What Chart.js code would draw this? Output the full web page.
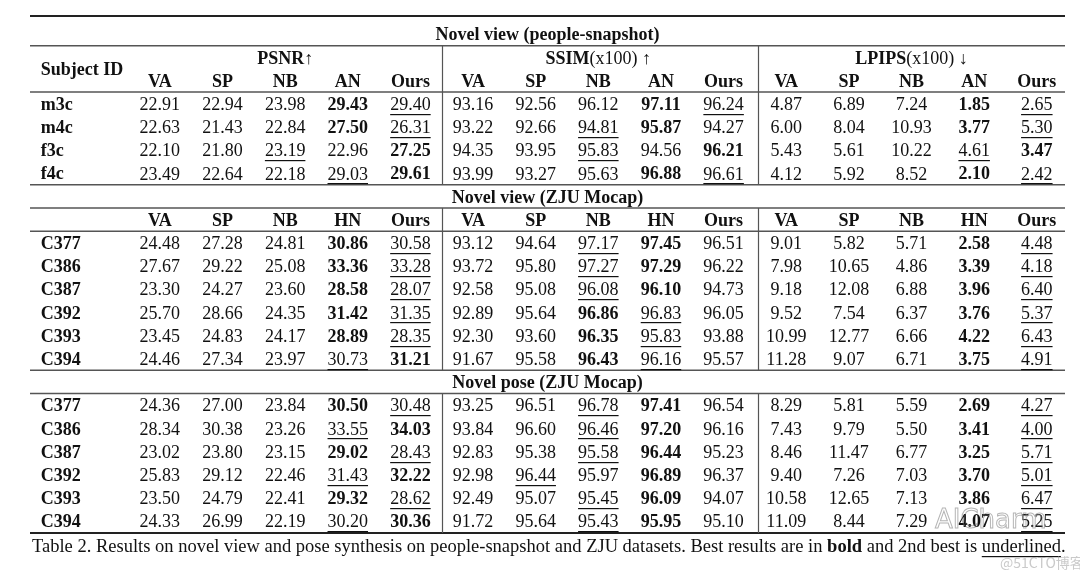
<!DOCTYPE html>
<html>
<head>
<meta charset="utf-8">
<script src="https://cdn.jsdelivr.net/npm/chart.js"></script>
<style>
  html, body { margin: 0; padding: 0; background: #fff; }
</style>
</head>
<body>
<canvas id="tableChart" width="1080" height="575"></canvas>
<script>
const sectionTitles = ['Novel view (people-snapshot)', 'Novel view (ZJU Mocap)', 'Novel pose (ZJU Mocap)'];
const metricNames = [['PSNR', '↑'], ['SSIM', '(x100) ↑'], ['LPIPS', '(x100) ↓']];
const methodsSnapshot = ['VA', 'SP', 'NB', 'AN', 'Ours'];
const methodsZJU = ['VA', 'SP', 'NB', 'HN', 'Ours'];
const subjectsSnapshot = ['m3c', 'm4c', 'f3c', 'f4c'];
const subjectsZJU = ['C377', 'C386', 'C387', 'C392', 'C393', 'C394'];

const psnrSnapshot = [
  [22.91, 22.94, 23.98, 29.43, 29.40],
  [22.63, 21.43, 22.84, 27.50, 26.31],
  [22.10, 21.80, 23.19, 22.96, 27.25],
  [23.49, 22.64, 22.18, 29.03, 29.61]
];
const ssimSnapshot = [
  [93.16, 92.56, 96.12, 97.11, 96.24],
  [93.22, 92.66, 94.81, 95.87, 94.27],
  [94.35, 93.95, 95.83, 94.56, 96.21],
  [93.99, 93.27, 95.63, 96.88, 96.61]
];
const lpipsSnapshot = [
  [4.87, 6.89, 7.24, 1.85, 2.65],
  [6.00, 8.04, 10.93, 3.77, 5.30],
  [5.43, 5.61, 10.22, 4.61, 3.47],
  [4.12, 5.92, 8.52, 2.10, 2.42]
];
// best / 2nd best column per row, for [psnr, ssim, lpips]
const bestSnapshot = [[3, 3, 3], [3, 3, 3], [4, 4, 4], [4, 3, 3]];
const secondSnapshot = [[4, 4, 4], [4, 2, 4], [2, 2, 3], [3, 4, 4]];

const psnrView = [
  [24.48, 27.28, 24.81, 30.86, 30.58],
  [27.67, 29.22, 25.08, 33.36, 33.28],
  [23.30, 24.27, 23.60, 28.58, 28.07],
  [25.70, 28.66, 24.35, 31.42, 31.35],
  [23.45, 24.83, 24.17, 28.89, 28.35],
  [24.46, 27.34, 23.97, 30.73, 31.21]
];
const ssimView = [
  [93.12, 94.64, 97.17, 97.45, 96.51],
  [93.72, 95.80, 97.27, 97.29, 96.22],
  [92.58, 95.08, 96.08, 96.10, 94.73],
  [92.89, 95.64, 96.86, 96.83, 96.05],
  [92.30, 93.60, 96.35, 95.83, 93.88],
  [91.67, 95.58, 96.43, 96.16, 95.57]
];
const lpipsView = [
  [9.01, 5.82, 5.71, 2.58, 4.48],
  [7.98, 10.65, 4.86, 3.39, 4.18],
  [9.18, 12.08, 6.88, 3.96, 6.40],
  [9.52, 7.54, 6.37, 3.76, 5.37],
  [10.99, 12.77, 6.66, 4.22, 6.43],
  [11.28, 9.07, 6.71, 3.75, 4.91]
];
const bestView = [[3, 3, 3], [3, 3, 3], [3, 3, 3], [3, 2, 3], [3, 2, 3], [4, 2, 3]];
const secondView = [[4, 2, 4], [4, 2, 4], [4, 2, 4], [4, 3, 4], [4, 3, 4], [3, 3, 4]];

const psnrPose = [
  [24.36, 27.00, 23.84, 30.50, 30.48],
  [28.34, 30.38, 23.26, 33.55, 34.03],
  [23.02, 23.80, 23.15, 29.02, 28.43],
  [25.83, 29.12, 22.46, 31.43, 32.22],
  [23.50, 24.79, 22.41, 29.32, 28.62],
  [24.33, 26.99, 22.19, 30.20, 30.36]
];
const ssimPose = [
  [93.25, 96.51, 96.78, 97.41, 96.54],
  [93.84, 96.60, 96.46, 97.20, 96.16],
  [92.83, 95.38, 95.58, 96.44, 95.23],
  [92.98, 96.44, 95.97, 96.89, 96.37],
  [92.49, 95.07, 95.45, 96.09, 94.07],
  [91.72, 95.64, 95.43, 95.95, 95.10]
];
const lpipsPose = [
  [8.29, 5.81, 5.59, 2.69, 4.27],
  [7.43, 9.79, 5.50, 3.41, 4.00],
  [8.46, 11.47, 6.77, 3.25, 5.71],
  [9.40, 7.26, 7.03, 3.70, 5.01],
  [10.58, 12.65, 7.13, 3.86, 6.47],
  [11.09, 8.44, 7.29, 4.07, 5.25]
];
const bestPose = [[3, 3, 3], [4, 3, 3], [3, 3, 3], [4, 3, 3], [3, 3, 3], [4, 3, 3]];
const secondPose = [[4, 2, 4], [3, 2, 4], [4, 2, 4], [3, 1, 4], [4, 2, 4], [3, 2, 4]];

const captionRuns = [
  { t: 'Table 2. Results on novel view and pose synthesis on people-snapshot and ZJU datasets. Best results are in ' },
  { t: 'bold', b: true },
  { t: ' and 2nd best is ' },
  { t: 'underlined', u: true },
  { t: '.' }
];

// --- grid: x = column index, y = row index ---
const X_MIN = -1.073, X_MAX = 15.45;
const Y_MIN = -0.7, Y_MAX = 21.6;
const ID_COL = -0.9;
const MID_COL = (X_MIN + X_MAX) / 2;
const FONT = '"Liberation Serif", "Times New Roman", serif';
const SIZE = 18;
const TEXT_SHIFT = 3.5; // canvas 'middle' sits a bit high for these digits

const cells = [];
function add(x, y, runs, align) { cells.push({ x: x, y: y, runs: runs, align: align || 'center' }); }

function addData(startRow, subjects, metricsData, best, second) {
  subjects.forEach((s, i) => {
    const row = startRow + i;
    add(ID_COL, row, [{ t: s, b: true }], 'left');
    metricsData.forEach((vals, m) => {
      vals[i].forEach((v, j) => {
        add(1 + m * 5 + j, row, [{ t: v.toFixed(2), b: best[i][m] === j, u: second[i][m] === j }]);
      });
    });
  });
}
function addMethods(row, methods) {
  for (let m = 0; m < 3; m++) {
    methods.forEach((name, j) => add(1 + m * 5 + j, row, [{ t: name, b: true }]));
  }
}

// section 1
add(MID_COL, 0, [{ t: sectionTitles[0], b: true }]);
add(ID_COL, 1.5, [{ t: 'Subject ID', b: true }], 'left');
metricNames.forEach((mn, m) => add(3 + m * 5, 1, [{ t: mn[0], b: true }, { t: mn[1] }]));
addMethods(2, methodsSnapshot);
addData(3, subjectsSnapshot, [psnrSnapshot, ssimSnapshot, lpipsSnapshot], bestSnapshot, secondSnapshot);
// section 2
add(MID_COL, 7, [{ t: sectionTitles[1], b: true }]);
addMethods(8, methodsZJU);
addData(9, subjectsZJU, [psnrView, ssimView, lpipsView], bestView, secondView);
// section 3
add(MID_COL, 15, [{ t: sectionTitles[2], b: true }]);
addData(16, subjectsZJU, [psnrPose, ssimPose, lpipsPose], bestPose, secondPose);

// rules: [row position, thick]
const hRules = [[Y_MIN, true], [0.58, false], [2.58, false], [6.58, false], [7.58, false], [8.58, false], [14.58, false], [15.58, false], [Y_MAX, true]];
const vRuleCols = [5.5, 10.55];
const vRuleSpans = [[0.58, 6.58], [7.58, 14.58], [15.58, Y_MAX]];

function drawRuns(ctx, runs, x, y, align, size) {
  let total = 0;
  runs.forEach(r => {
    ctx.font = (r.b ? 'bold ' : '') + size + 'px ' + FONT;
    r.w = ctx.measureText(r.t).width;
    total += r.w;
  });
  let cx = align === 'center' ? x - total / 2 : (align === 'right' ? x - total : x);
  runs.forEach(r => {
    ctx.font = (r.b ? 'bold ' : '') + size + 'px ' + FONT;
    ctx.fillText(r.t, cx, y);
    if (r.u) {
      ctx.fillRect(cx, Math.round(y + size * 0.36 + 2), r.w, 1.2);
    }
    cx += r.w;
  });
}

const tablePlugin = {
  id: 'tablePlugin',
  afterDatasetsDraw(chart) {
    const ctx = chart.ctx;
    const xs = chart.scales.x, ys = chart.scales.y;
    const area = chart.chartArea;
    ctx.save();
    // horizontal rules
    hRules.forEach(([r, thick]) => {
      const py = ys.getPixelForValue(r);
      ctx.strokeStyle = thick ? '#222' : '#555';
      ctx.lineWidth = thick ? 2 : 1.5;
      ctx.beginPath();
      ctx.moveTo(area.left, py);
      ctx.lineTo(area.right, py);
      ctx.stroke();
    });
    // vertical rules
    ctx.strokeStyle = '#555';
    ctx.lineWidth = 1.2;
    vRuleCols.forEach(c => {
      const px = Math.round(xs.getPixelForValue(c)) + 0.5;
      vRuleSpans.forEach(([a, b]) => {
        ctx.beginPath();
        ctx.moveTo(px, ys.getPixelForValue(a));
        ctx.lineTo(px, ys.getPixelForValue(b));
        ctx.stroke();
      });
    });
    // cell texts, placed at the points laid out by the scales
    ctx.fillStyle = '#111';
    ctx.textBaseline = 'middle';
    ctx.textAlign = 'left';
    const meta = chart.getDatasetMeta(0);
    meta.data.forEach((el, i) => {
      const raw = chart.data.datasets[0].data[i];
      drawRuns(ctx, raw.runs, el.x, el.y + TEXT_SHIFT, raw.align, SIZE);
    });
    // caption
    drawRuns(ctx, captionRuns, area.left + 2, area.bottom + 14, 'left', 18.5);
    // watermark
    ctx.font = '26px "DejaVu Sans", sans-serif';
    ctx.strokeStyle = 'rgba(120,120,120,0.55)';
    ctx.lineWidth = 1;
    ctx.strokeText('AICharm', 935, area.bottom - 12);
    ctx.font = '14px "Noto Sans CJK SC", sans-serif';
    ctx.fillStyle = 'rgba(150,150,150,0.5)';
    ctx.fillText('@51CTO博客', 1000, area.bottom + 30);
    ctx.restore();
  }
};

const tableChart = new Chart(document.getElementById('tableChart').getContext('2d'), {
  type: 'scatter',
  data: {
    datasets: [{
      label: 'cells',
      data: cells,
      pointRadius: 0,
      pointHoverRadius: 0
    }]
  },
  options: {
    responsive: false,
    animation: false,
    devicePixelRatio: 1,
    events: [],
    layout: { padding: { left: 30, right: 15, top: 16, bottom: 42 } },
    plugins: {
      legend: { display: false },
      tooltip: { enabled: false },
      title: { display: false }
    },
    scales: {
      x: { type: 'linear', display: false, min: X_MIN, max: X_MAX },
      y: { type: 'linear', display: false, reverse: true, min: Y_MIN, max: Y_MAX }
    }
  },
  plugins: [tablePlugin]
});
</script>
</body>
</html>
